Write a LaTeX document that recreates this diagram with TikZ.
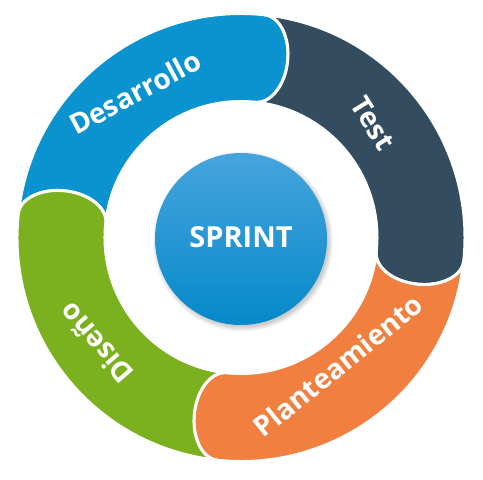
\documentclass[tikz,border=0pt]{standalone}
\usepackage{fontspec}
\setmainfont{Open Sans}
\definecolor{segBlue}{HTML}{0B93CF}
\definecolor{segDark}{HTML}{334C5F}
\definecolor{segOrange}{HTML}{F07F40}
\definecolor{segGreen}{HTML}{7BB11E}
\definecolor{hubTop}{HTML}{46A4DC}
\definecolor{hubBot}{HTML}{0589C9}
\newcommand{\ringseg}[3]{%
  \begin{scope}[rotate=#1]
    \path[segment, fill=#2] (90:224) coordinate (#3-start)
      arc[start angle=90, end angle=0, radius=224]
      arc[start angle=0, end angle=-180, x radius=44, y radius=28]
      arc[start angle=0, end angle=90, radius=136]
      arc[start angle=-90, end angle=90, x radius=28, y radius=44] -- cycle;
  \end{scope}}
\begin{document}
\begin{tikzpicture}[x=1pt, y=1pt,
  segment/.style={draw=white, line width=3pt, line join=round},
  label/.style={text=white, font=\fontsize{28}{31}\selectfont\bfseries, inner sep=0pt},
  hub/.style={circle, minimum size=172pt, inner sep=0pt, top color=hubTop, bottom color=hubBot}]
\useasboundingbox[fill=white] (-241,-242.5) rectangle (242,237.5);
\ringseg{84}{segBlue}{desa}
\ringseg{-6}{segDark}{test}
\ringseg{-96}{segOrange}{plan}
\ringseg{174}{segGreen}{dise}
\node[label, rotate=28] (ldesa) at (-106,145) {Desarrollo};
\node[label, rotate=-58] (ltest) at (132,114) {Test};
\node[label, rotate=39] (lplan) at (97,-128) {Planteamiento};
\node[label, rotate=131] (ldise) at (-145,-106) {Diseño};
\foreach \i in {1,...,6}
  \fill[black, opacity=0.035] (2,-4) circle ({84+\i});
\node[hub] (hub) at (0,-1.5) {};
\node[label, font=\fontsize{29}{32}\selectfont\bfseries] (sprint) at (0,0) {SPRINT};
\end{tikzpicture}
\end{document}
